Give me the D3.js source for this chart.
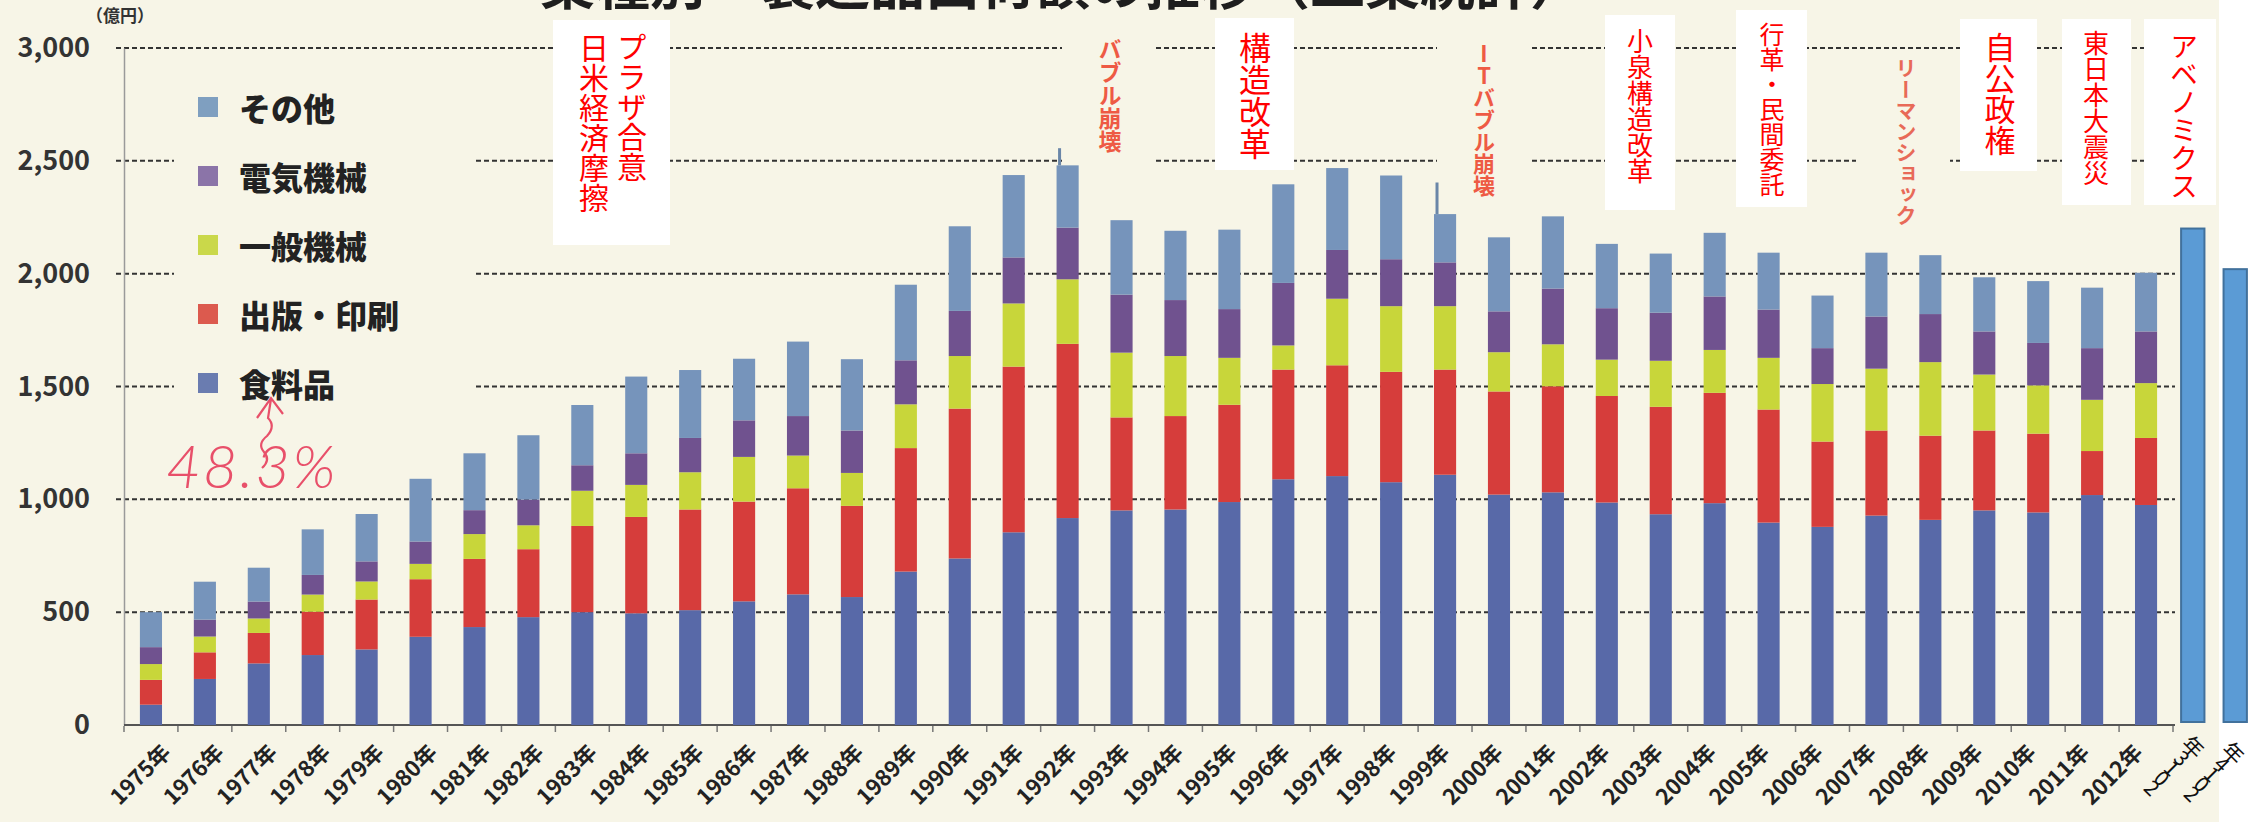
<!DOCTYPE html>
<html><head><meta charset="utf-8">
<script src="https://cdn.jsdelivr.net/npm/d3@7"></script>
<style>html,body{margin:0;padding:0;background:#fff;} svg{display:block}</style>
</head><body>
<svg id="c" width="2254" height="822"></svg>
<script>
// ---------- DATA ----------
const years = ["1975年","1976年","1977年","1978年","1979年","1980年","1981年","1982年","1983年","1984年",
  "1985年","1986年","1987年","1988年","1989年","1990年","1991年","1992年","1993年","1994年",
  "1995年","1996年","1997年","1998年","1999年","2000年","2001年","2002年","2003年","2004年",
  "2005年","2006年","2007年","2008年","2009年","2010年","2011年","2012年"];
const seriesKeys = ["food","printing","general","electric","other"];
const seriesNames = ["食料品","出版・印刷","一般機械","電気機械","その他"];
const food =     [90,204,273,310,335,391,434,478,500,495, 509,548,579,567,680,738,854,917,951,955, 988,1089,1103,1076,1109,1021,1031,986,934,983, 897,878,928,909,951,942,1019,975];
const printing = [110,118,135,192,221,255,302,301,382,427, 446,442,470,404,547,664,734,772,412,414, 431,486,491,489,466,457,470,472,476,489, 501,378,377,373,354,349,195,297];
const general =  [70,70,64,76,80,68,110,106,156,142, 165,198,145,146,194,233,280,286,287,266, 208,107,295,291,281,174,186,161,204,190, 229,255,274,326,248,214,227,243];
const electric = [75,75,75,87,89,99,106,114,113,140, 152,162,175,188,195,200,204,229,257,248, 216,277,216,208,194,181,247,228,213,237, 214,159,231,213,191,188,229,229];
const other =    [155,168,150,202,210,278,252,285,267,340, 301,273,330,316,335,375,365,276,330,307, 352,437,363,371,214,328,320,285,262,282, 252,233,283,261,240,274,268,260];
const extraYears = ["2013年","2014年"];
const extraValues = [2200, 2020];
const spikeYears = ["1992年","1999年"];
const spikeValues = [2556, 2404];
const yTicks = [0,500,1000,1500,2000,2500,3000];
const title = "業種別・製造品出荷額の推移（工業統計）";
const unitLabel = "（億円）";
const boxNotes = [
  {cols:["プラザ合意","日米経済摩擦"]},
  {cols:["構造改革"]},
  {cols:["小泉構造改革"]},
  {cols:["行革・民間委託"]},
  {cols:["自公政権"]},
  {cols:["東日本大震災"]},
  {cols:["アベノミクス"]}
];
const printedNotes = ["バブル崩壊","ITバブル崩壊","リーマンショック"];
const handNote = "48.3%";

// ---------- LAYOUT ----------
const svg = d3.select("#c");
const cream = "#f7f5e7";
const barColors = ["#5869a8","#d63d3b","#c8d63a","#70528f","#7694bb"];
const legendColors = ["#6a7cb0","#dc5a4e","#cad84a","#8b74a8","#7f9fc0"];
const font = "'Noto Sans CJK JP','Noto Sans',sans-serif";

svg.append("rect").attr("width",2254).attr("height",822).attr("fill","#ffffff");
svg.append("rect").attr("width",2219).attr("height",822).attr("fill",cream);

const x = d3.scaleBand().domain(years).range([124,2173]).paddingInner(0.59).paddingOuter(0.295);
const xLabel = d3.scalePoint().domain(years).range([172,2144]);
const y = d3.scaleLinear().domain([0,3000]).range([725,48]);
const xExtra = d3.scaleBand().domain(extraYears).range([2162,2266]).padding(0.45);

// gridlines
svg.append("g").selectAll("line").data(yTicks.filter(d=>d>0)).join("line")
  .attr("x1",116).attr("x2",2175).attr("y1",d=>y(d)).attr("y2",d=>y(d))
  .attr("stroke","#333").attr("stroke-width",2).attr("stroke-dasharray","5,3");

// masks (printed background behind legend / printed notes)
const masks = [[174,60,299,360],[1062,30,92,142],[1437,30,94,182],[1856,55,94,185]];
svg.append("g").selectAll("rect").data(masks).join("rect")
  .attr("x",d=>d[0]).attr("y",d=>d[1]).attr("width",d=>d[2]).attr("height",d=>d[3]).attr("fill",cream);

// y axis
const yAxis = svg.append("g").attr("transform","translate(124,0)")
  .call(d3.axisLeft(y).tickValues(yTicks).tickSize(0).tickPadding(34).tickFormat(d3.format(",")));
yAxis.select(".domain").attr("stroke","#9a9a9a").attr("stroke-width",1.5);
yAxis.selectAll("text").attr("font-family",font).attr("font-size",27).attr("font-weight",700).attr("fill","#333");

// x axis
const xAxis = svg.append("g").attr("transform","translate(0,725)")
  .call(d3.axisBottom(x).tickSize(0).tickFormat(""));
xAxis.select(".domain").attr("stroke","#555").attr("stroke-width",2).attr("d","M124,0H2175");
const step = x.step();
svg.append("g").selectAll("line").data(years.concat(["end"])).join("line")
  .attr("x1",(d,i)=>124 + i*step).attr("x2",(d,i)=>124 + i*step)
  .attr("y1",726).attr("y2",732).attr("stroke","#777").attr("stroke-width",1.5);

// stacked bars
const rows = years.map((yr,i)=>({year:yr, food:food[i], printing:printing[i], general:general[i], electric:electric[i], other:other[i]}));
const stack = d3.stack().keys(seriesKeys)(rows);
svg.append("g").selectAll("g").data(stack).join("g").attr("fill",(d,i)=>barColors[i])
  .selectAll("rect").data(d=>d).join("rect")
  .attr("x",d=>x(d.data.year)).attr("width",x.bandwidth())
  .attr("y",d=>y(d[1])).attr("height",d=>y(d[0])-y(d[1]));

// spikes (thin scan marks above bars)
svg.append("g").selectAll("line").data(spikeYears).join("line")
  .attr("x1",d=>x(d)+3).attr("x2",d=>x(d)+3)
  .attr("y1",(d,i)=>y(spikeValues[i])).attr("y2",(d,i)=>y(stack[4][years.indexOf(d)][1]))
  .attr("stroke","#6a86a8").attr("stroke-width",3);

// x labels
svg.append("g").selectAll("text").data(years).join("text")
  .attr("transform",d=>`translate(${xLabel(d)},754) rotate(-45)`)
  .attr("text-anchor","end").attr("font-family",font).attr("font-size",22).attr("font-weight",700)
  .attr("fill","#222").text(d=>d);

// extra blue bars
svg.append("g").selectAll("rect").data(extraYears).join("rect")
  .attr("x",d=>xExtra(d)).attr("width",xExtra.bandwidth())
  .attr("y",(d,i)=>y(extraValues[i])).attr("height",(d,i)=>y(0)-3-y(extraValues[i]))
  .attr("fill","#5b9bd5").attr("stroke","#41719c").attr("stroke-width",2);

// extra labels (sideways glyphs along a diagonal)
const extraStarts = [[2148,792],[2188,798]];
extraYears.forEach((lab,k)=>{
  const chars = Array.from(lab);
  let pos = 0;
  chars.forEach((ch,i)=>{
    const adv = ch==="年"?18:14;
    const d = pos + adv/2;
    const px = extraStarts[k][0] + d*0.7071, py = extraStarts[k][1] - d*0.7071;
    svg.append("text").attr("x",px).attr("y",py)
      .attr("transform",`rotate(45,${px},${py})`)
      .attr("text-anchor","middle").attr("dominant-baseline","central")
      .attr("font-family",font).attr("font-size",21).attr("fill","#111").text(ch);
    pos += adv;
  });
});

// legend
const legendOrder = [4,3,2,1,0];
const lg = svg.append("g");
legendOrder.forEach((si,j)=>{
  const cy = 107 + j*69;
  lg.append("rect").attr("x",198).attr("y",cy-10).attr("width",20).attr("height",20).attr("fill",legendColors[si]);
  lg.append("text").attr("x",239).attr("y",cy).attr("dominant-baseline","central")
    .attr("font-family",font).attr("font-size",32).attr("font-weight",900).attr("fill","#222").text(seriesNames[si]);
});

// title & unit
svg.append("text").attr("x",540).attr("y",4).attr("font-family",font).attr("font-size",55)
  .attr("font-weight",700).attr("fill","#1e1e1e").text(title);
svg.append("text").attr("x",86).attr("y",22).attr("font-family",font).attr("font-size",17)
  .attr("font-weight",700).attr("fill","#333").text(unitLabel);

// vertical text helper
function vtext(xc, top, str, size, color, weight, orient){
  svg.append("text").attr("x",xc).attr("y",top)
    .attr("style","writing-mode: vertical-rl; text-orientation: " + (orient||"mixed") + ";")
    .attr("font-family",font).attr("font-size",size).attr("font-weight",weight||400)
    .attr("fill",color).text(str);
}

// white boxes with red vertical notes
const boxGeom = [
  {box:[553,20,117,225], cols:[[632,32,30],[594,33,30]]},
  {box:[1215,18,79,152], cols:[[1255,32,32]]},
  {box:[1605,15,70,195], cols:[[1640,28,26]]},
  {box:[1736,10,71,197], cols:[[1772,22,25]]},
  {box:[1960,19,77,152], cols:[[2000,32,31]]},
  {box:[2062,19,69,186], cols:[[2096,30,26]]},
  {box:[2144,19,72,186], cols:[[2184,32,28]]}
];
boxNotes.forEach((n,i)=>{
  const gb = boxGeom[i];
  svg.append("rect").attr("x",gb.box[0]).attr("y",gb.box[1]).attr("width",gb.box[2]).attr("height",gb.box[3]).attr("fill","#fff");
  n.cols.forEach((c,j)=>vtext(gb.cols[j][0],gb.cols[j][1],c,gb.cols[j][2],"#ff0000",400));
});

// printed notes
const printedGeom = [[1110,38,23,"#ee5a44","mixed"],[1484,43,22,"#ee5a44","upright"],[1906,58,21,"#e86a58","mixed"]];
printedNotes.forEach((t,i)=>{
  const p = printedGeom[i];
  vtext(p[0],p[1],t,p[2],p[3],700,p[4]);
});

// handwritten note
svg.append("text").attr("x",166).attr("y",488).attr("font-family","Lato, sans-serif").attr("font-style","italic")
  .attr("font-weight",300).attr("font-size",60).attr("letter-spacing",2).attr("fill","#e8506a").text(handNote);
svg.append("path").attr("d","M262,468 q9,-8 2,-16 q-7,-8 3,-16 q9,-10 1,-18 L271,399 M257,418 L271,398 L283,414")
  .attr("fill","none").attr("stroke","#e8506a").attr("stroke-width",2.2);
</script>
</body></html>
